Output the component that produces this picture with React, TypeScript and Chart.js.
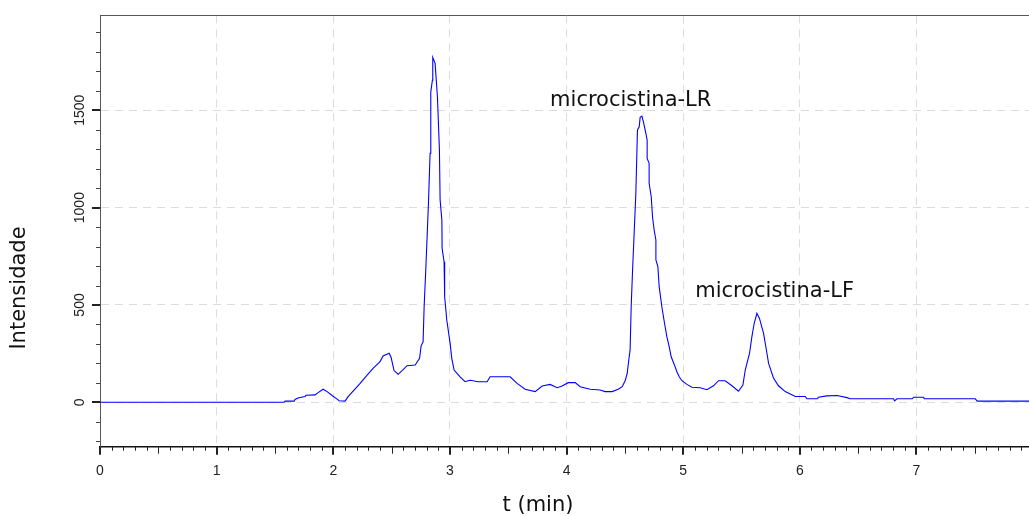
import React, { useEffect, useRef } from 'react';
import { Chart, registerables } from 'chart.js';

Chart.register(...registerables);

// Chromatogram trace: retention time (min) and intensity
const timeMin = [
  0, 1.578, 1.587, 1.664, 1.672, 1.698, 1.758, 1.767, 1.844, 1.87, 1.913, 1.947, 1.99, 2.024, 2.05, 2.101,
  2.127, 2.17, 2.23, 2.29, 2.341, 2.401, 2.427, 2.479, 2.496, 2.521, 2.556, 2.599, 2.633, 2.702, 2.74, 2.753,
  2.77, 2.779, 2.793, 2.816, 2.83, 2.836, 2.85, 2.853, 2.873, 2.893, 2.91, 2.916, 2.931, 2.933, 2.95, 2.955,
  2.973, 3.002, 3.016, 3.036, 3.087, 3.13, 3.173, 3.242, 3.319, 3.345, 3.516, 3.576, 3.645, 3.731, 3.791, 3.859,
  3.919, 3.962, 4.014, 4.074, 4.117, 4.202, 4.288, 4.331, 4.391, 4.443, 4.477, 4.503, 4.52, 4.537, 4.545, 4.554,
  4.565, 4.577, 4.594, 4.608, 4.623, 4.631, 4.646, 4.659, 4.68, 4.691, 4.691, 4.708, 4.708, 4.726, 4.737, 4.751,
  4.766, 4.766, 4.783, 4.794, 4.817, 4.84, 4.86, 4.88, 4.897, 4.925, 4.946, 4.966, 4.989, 5.032, 5.075, 5.146,
  5.203, 5.26, 5.303, 5.36, 5.418, 5.474, 5.512, 5.532, 5.569, 5.589, 5.609, 5.632, 5.654, 5.689, 5.718, 5.732,
  5.774, 5.817, 5.875, 5.918, 5.961, 6.046, 6.061, 6.147, 6.16, 6.232, 6.321, 6.404, 6.432, 6.804, 6.812, 6.833,
  6.964, 6.975, 7.061, 7.067, 7.504, 7.521, 8.0,
];

const intensity = [
  0, 0, 6, 6, 15, 22, 30, 36, 38, 50, 67, 55, 35, 20, 8, 6,
  29, 58, 97, 140, 174, 209, 238, 252, 230, 163, 144, 168, 188, 192, 226, 290,
  311, 491, 680, 1022, 1279, 1595, 1655, 1772, 1741, 1570, 1296, 1039, 936, 791, 722, 542,
  423, 303, 226, 166, 131, 106, 113, 106, 106, 131, 131, 97, 67, 55, 84, 92,
  75, 84, 101, 101, 80, 67, 63, 55, 55, 67, 80, 112, 149, 234, 269, 491,
  663, 834, 1073, 1399, 1415, 1464, 1470, 1441, 1382, 1347, 1253, 1228, 1125, 1056, 953, 885,
  834, 731, 697, 594, 491, 406, 337, 286, 234, 192, 157, 131, 111, 92, 77, 75,
  65, 85, 111, 111, 85, 57, 89, 166, 252, 337, 406, 457, 431, 354, 252, 200,
  125, 85, 55, 43, 30, 30, 18, 18, 26, 33, 35, 24, 18, 18, 7, 18,
  18, 26, 26, 18, 18, 6, 6,
];

const yTickValues = [0, 500, 1000, 1500];
const xMin = 0;
const xMax = 8;
const yMin = -228;
const yMax = 1988;

const peakLabels = ['microcistina-LR', 'microcistina-LF'];
const peakLabelT = [3.859, 5.103];
const peakLabelI = [1522, 541];

const xTitle = 't (min)';
const yTitle = 'Intensidade';

export default function App() {
  const ref = useRef<HTMLCanvasElement>(null);

  useEffect(() => {
    const canvas = ref.current;
    if (!canvas) return;
    const points = timeMin.map((t, i) => ({ x: t, y: intensity[i] }));

    const extras = {
      id: 'extras',
      afterDraw(chart: any) {
        const ctx = chart.ctx as CanvasRenderingContext2D;
        const xs = chart.scales.x;
        const ys = chart.scales.y;
        const area = chart.chartArea;
        ctx.save();
        // top frame line
        ctx.strokeStyle = '#555';
        ctx.lineWidth = 1;
        ctx.beginPath();
        ctx.moveTo(area.left, Math.round(area.top) + 0.5);
        ctx.lineTo(area.right, Math.round(area.top) + 0.5);
        ctx.stroke();

        // x ticks (major, half, minor)
        ctx.strokeStyle = '#222';
        const steps = Math.round((xMax - xMin) * 10);
        for (let i = 0; i <= steps; i++) {
          const v = xMin + i / 10;
          const px = Math.round(xs.getPixelForValue(v));
          const major = i % 10 === 0;
          const half = i % 5 === 0;
          const len = major ? 8 : half ? 7 : 4;
          ctx.lineWidth = major ? 2 : 1;
          ctx.beginPath();
          ctx.moveTo(px + (major ? 0 : 0.5), area.bottom);
          ctx.lineTo(px + (major ? 0 : 0.5), area.bottom + len);
          ctx.stroke();
        }
        // y ticks
        for (let v = -200; v <= 1900; v += 100) {
          const py = Math.round(ys.getPixelForValue(v));
          const major = v % 500 === 0;
          const len = major ? 8 : 4;
          ctx.lineWidth = major ? 2 : 1;
          ctx.strokeStyle = major ? '#222' : '#444';
          ctx.beginPath();
          ctx.moveTo(area.left - len, py + (major ? 0 : 0.5));
          ctx.lineTo(area.left, py + (major ? 0 : 0.5));
          ctx.stroke();
        }

        // y tick labels (rotated)
        ctx.fillStyle = '#222';
        ctx.font = '14px "Liberation Sans", Arial, sans-serif';
        ctx.textAlign = 'center';
        ctx.textBaseline = 'middle';
        for (const v of yTickValues) {
          const py = ys.getPixelForValue(v);
          ctx.save();
          ctx.translate(area.left - 20, py);
          ctx.rotate(-Math.PI / 2);
          ctx.fillText(String(v), 0, 0);
          ctx.restore();
        }

        // peak annotations
        ctx.fillStyle = '#111';
        ctx.font = '21px "DejaVu Sans", Verdana, sans-serif';
        ctx.textAlign = 'left';
        ctx.textBaseline = 'alphabetic';
        peakLabels.forEach((txt, i) => {
          ctx.fillText(txt, xs.getPixelForValue(peakLabelT[i]), ys.getPixelForValue(peakLabelI[i]));
        });

        // axis titles
        ctx.textAlign = 'center';
        ctx.textBaseline = 'middle';
        ctx.fillText(xTitle, 538, 506);
        ctx.save();
        ctx.translate(20, 288);
        ctx.rotate(-Math.PI / 2);
        ctx.fillText(yTitle, 0, 0);
        ctx.restore();
        ctx.restore();
      },
    };

    const chart = new Chart(canvas, {
      type: 'line',
      data: {
        datasets: [
          {
            data: points,
            borderColor: '#0000ff',
            borderWidth: 1.1,
            pointRadius: 0,
            tension: 0,
            fill: false,
          },
        ],
      },
      options: {
        animation: false,
        responsive: false,
        devicePixelRatio: 1,
        layout: { padding: { left: 0, top: 15.3, right: 0, bottom: 0 } },
        plugins: { legend: { display: false }, tooltip: { enabled: false } },
        scales: {
          x: {
            type: 'linear',
            min: xMin,
            max: xMax,
            afterFit: (s: any) => {
              s.height = 69.3;
            },
            ticks: {
              stepSize: 1,
              autoSkip: false,
              maxRotation: 0,
              padding: 16,
              color: '#222',
              font: { family: '"Liberation Sans", Arial, sans-serif', size: 14 },
            },
            grid: {
              drawTicks: false,
              lineWidth: 1,
              color: (c: any) => (c.tick && c.tick.value === 0 ? 'rgba(0,0,0,0)' : '#dcdcdc'),
            },
            border: { display: true, color: '#111', width: 1.5, dash: [8, 6] },
          },
          y: {
            type: 'linear',
            min: yMin,
            max: yMax,
            afterFit: (s: any) => {
              s.width = 100;
            },
            afterBuildTicks: (s: any) => {
              s.ticks = yTickValues.map((v) => ({ value: v }));
            },
            ticks: { display: false },
            grid: { drawTicks: false, lineWidth: 1, color: '#dcdcdc' },
            border: { display: true, color: '#555', width: 1, dash: [8, 6] },
          },
        },
      },
      plugins: [extras],
    } as any);

    return () => chart.destroy();
  }, []);

  return (
    <div
      style={{
        position: 'fixed',
        left: 0,
        top: 0,
        width: 1029,
        height: 516,
        overflow: 'hidden',
        background: '#fff',
      }}
    >
      <canvas ref={ref} width={1053} height={516} style={{ display: 'block' }} />
    </div>
  );
}
